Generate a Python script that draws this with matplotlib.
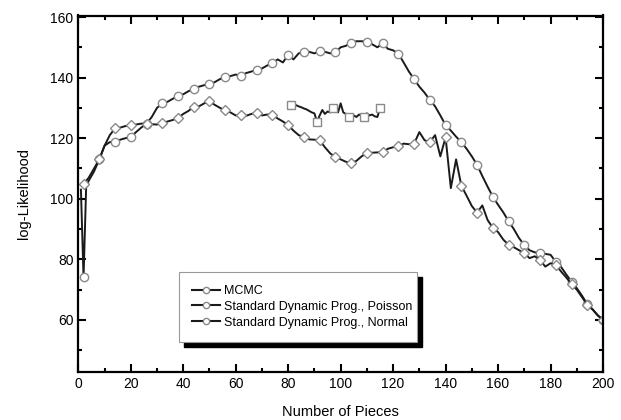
import numpy as np
import matplotlib.pyplot as plt
from matplotlib.lines import Line2D
from matplotlib.patches import Rectangle

plt.rcParams['font.family'] = ['Liberation Sans', 'DejaVu Sans']

# MCMC run (pieces 81..115)
mcmc_x = list(range(81, 116))
mcmc_y = [130.9, 130.8, 130.9, 130.5, 130.2, 129.8, 129.5, 129.0, 128.5, 128.2,
          125.4, 127.5, 129.3, 128.0, 128.8, 128.5, 129.8, 129.0, 128.5, 131.5,
          128.5, 128.0, 127.0, 127.2, 127.5, 127.0, 127.8, 127.3, 127.0, 128.2,
          127.5, 127.8, 127.2, 127.0, 129.8]

# Standard DP, Poisson
pois_x = [1, 2, 3] + list(range(4, 201, 2))
pois_y = [103, 74, 104,
          106, 109, 113, 117.5, 118.7, 118.7, 119.5, 120.0, 120.4, 122.0,
          123.5, 124.8, 127.0, 130.0, 131.5, 132.0, 133.0, 133.9, 134.5, 135.5,
          136.3, 137.0, 137.5, 137.8, 138.5, 139.5, 140.2, 140.5, 141.0, 140.6,
          141.5, 142.0, 142.6, 143.0, 144.0, 144.8, 146.0, 145.0, 147.5, 146.0,
          148.0, 148.4, 148.5, 148.0, 148.7, 148.5, 148.0, 148.4, 150.0, 150.5,
          151.5, 152.0, 152.0, 151.9, 151.0, 150.0, 151.3, 149.5, 149.0, 147.9,
          145.0, 142.0, 139.5, 137.0, 135.0, 132.6, 130.5, 127.5, 124.3, 122.5,
          120.5, 118.7, 116.5, 114.0, 111.2, 107.5, 104.0, 100.7, 98.0, 95.5,
          92.6, 90.0, 87.0, 84.7, 83.0, 82.3, 82.1, 81.8, 81.5, 79.2, 77.5,
          75.0, 72.6, 70.5, 68.0, 65.2, 63.5, 61.5, 60.0]

# Standard DP, Normal
norm_x = list(range(2, 201, 2))
norm_y = [104.8, 107.0, 110.0, 113.0, 117.5, 121.0, 123.2, 123.5, 124.0, 124.3,
          124.5, 124.8, 124.8, 124.6, 124.5, 125.0, 125.5, 126.0, 126.7, 128.0,
          129.0, 130.4, 130.5, 131.5, 132.2, 131.0, 130.0, 129.2, 128.5, 127.5,
          127.6, 127.4, 128.0, 128.4, 127.5, 127.8, 127.6, 126.5, 125.5, 124.3,
          122.5, 121.0, 120.4, 119.6, 119.5, 119.3, 117.0, 115.0, 113.7, 113.0,
          112.2, 111.8, 112.5, 114.0, 115.1, 115.2, 115.3, 115.4, 116.5, 117.0,
          117.4, 118.2, 118.0, 118.2, 122.0, 119.3, 118.7, 121.0, 114.0, 120.3,
          103.5, 113.0, 104.3, 101.0, 97.6, 95.4, 97.8, 93.0, 90.4, 89.0,
          86.5, 84.8, 84.0, 83.0, 82.0, 80.4, 81.0, 79.8, 77.6, 78.7,
          78.2, 76.0, 74.0, 71.8, 70.0, 67.5, 65.0, 63.5, 61.5, 60.0]

labels = ['MCMC', 'Standard Dynamic Prog., Poisson', 'Standard Dynamic Prog., Normal']

fig = plt.figure(figsize=(6.21, 4.2), dpi=100)
ax = fig.add_axes([78.3 / 621, 48 / 420, (603 - 78.3) / 621, (372 - 15.5) / 420])

mk = dict(markerfacecolor='white', markeredgecolor='#8a8a8a', markeredgewidth=1.0)
line_c = '#1a1a1a'

pois_marks = [i for i, v in enumerate(pois_x) if v % 6 == 2]
norm_marks = [i for i, v in enumerate(norm_x) if v % 6 == 2]

ax.plot(mcmc_x, mcmc_y, color=line_c, lw=1.4, marker='s', markersize=5.5,
        markevery=[0, 10, 16, 22, 28, 34], **mk)
ax.plot(pois_x, pois_y, color=line_c, lw=1.4, marker='o', markersize=6,
        markevery=pois_marks, **mk)
ax.plot(norm_x, norm_y, color=line_c, lw=1.4, marker='D', markersize=5,
        markevery=norm_marks, **mk)

ax.set_xlim(0, 200)
ax.set_ylim(42.8, 160.5)
ax.set_xticks(np.arange(0, 201, 20))
ax.set_xticks(np.arange(10, 200, 20), minor=True)
ax.set_yticks(np.arange(60, 161, 20))
ax.set_yticks(np.arange(50, 160, 20), minor=True)
ax.tick_params(which='both', direction='in', top=True, right=True, width=1.5, labelsize=10)
ax.tick_params(which='major', length=6)
ax.tick_params(which='minor', length=3)
for s in ax.spines.values():
    s.set_linewidth(1.6)

ax.set_xlabel('Number of Pieces', fontsize=10.5, labelpad=10)
ax.set_ylabel('log-Likelihood', fontsize=10.5, labelpad=14)

# legend handles: line with one marker in the middle
handles = [Line2D([], [], color=line_c, lw=1.5, marker='o', markersize=4.5, **mk)
           for _ in labels]
leg = ax.legend(handles, labels, loc='lower left', bbox_to_anchor=(0.191, 0.085, 0.454, 0.196),
                mode='expand', fancybox=False, framealpha=1, edgecolor='#999999',
                fontsize=9, handlelength=2.3, handletextpad=0.25, labelspacing=0.3,
                borderpad=1.05, borderaxespad=0)
leg.get_frame().set_linewidth(0.8)
leg.set_zorder(6)

# black drop shadow of the legend box
fig.canvas.draw()
bb = leg.get_frame().get_window_extent()
inv = ax.transAxes.inverted()
(x0, y0), (x1, y1) = inv.transform([(bb.x0 + 5, bb.y0 - 5), (bb.x1 + 5, bb.y1 - 5)])
ax.add_patch(Rectangle((x0, y0), x1 - x0, y1 - y0, transform=ax.transAxes,
                       facecolor='black', edgecolor='black', zorder=5.5, clip_on=False))

fig.savefig('out.png', dpi=100)
